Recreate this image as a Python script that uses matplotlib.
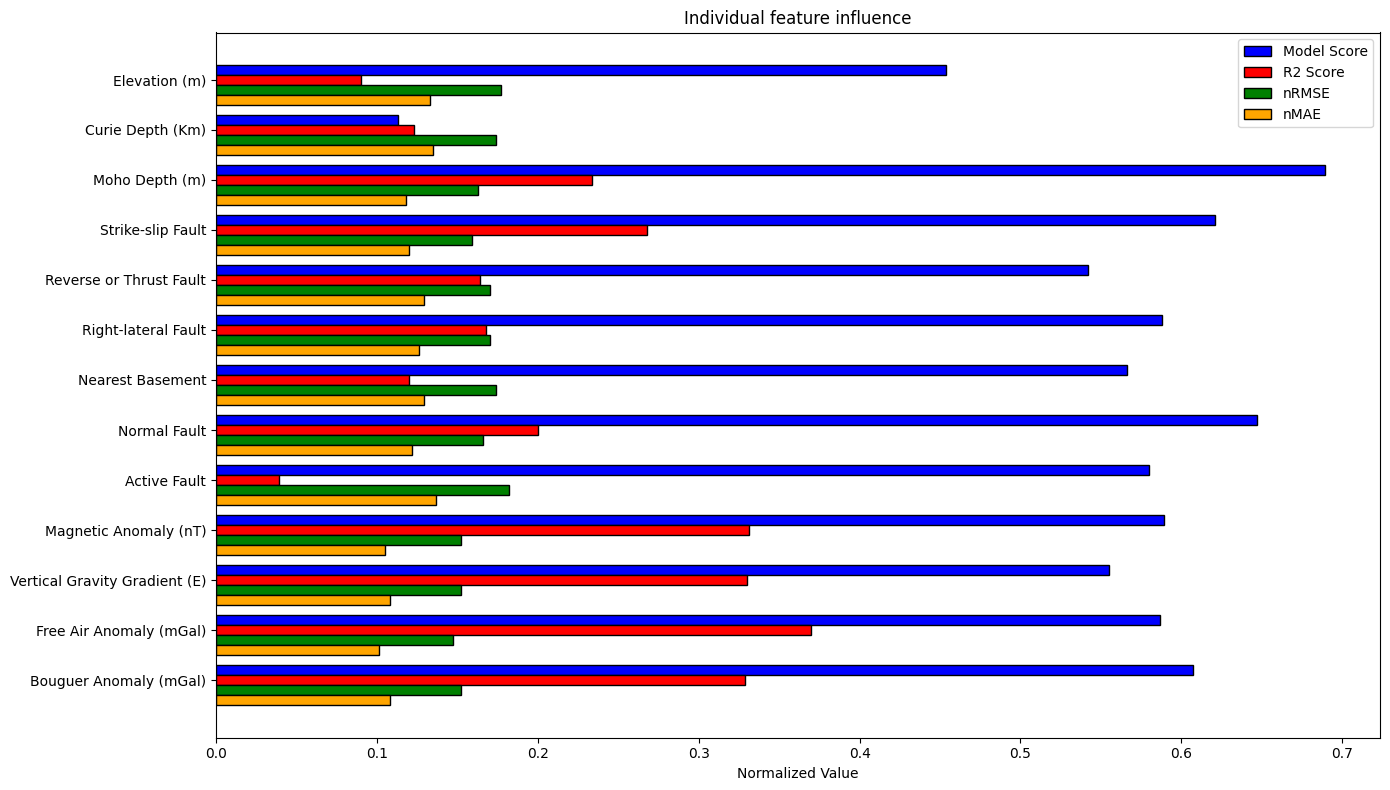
import numpy as np
import matplotlib
matplotlib.use("Agg")
import matplotlib.pyplot as plt

features = [
    "Elevation (m)", "Curie Depth (Km)", "Moho Depth (m)", "Strike-slip Fault",
    "Reverse or Thrust Fault", "Right-lateral Fault", "Nearest Basement",
    "Normal Fault", "Active Fault", "Magnetic Anomaly (nT)",
    "Vertical Gravity Gradient (E)", "Free Air Anomaly (mGal)", "Bouguer Anomaly (mGal)",
]
model_score = [0.454, 0.113, 0.689, 0.621, 0.542, 0.588, 0.566, 0.647, 0.580, 0.589, 0.555, 0.587, 0.607]
r2_score = [0.090, 0.123, 0.234, 0.268, 0.164, 0.168, 0.120, 0.200, 0.039, 0.331, 0.330, 0.370, 0.329]
nrmse = [0.177, 0.174, 0.163, 0.159, 0.170, 0.170, 0.174, 0.166, 0.182, 0.152, 0.152, 0.147, 0.152]
nmae = [0.133, 0.135, 0.118, 0.120, 0.129, 0.126, 0.129, 0.122, 0.137, 0.105, 0.108, 0.101, 0.108]

series = [
    ("Model Score", model_score, "blue"),
    ("R2 Score", r2_score, "red"),
    ("nRMSE", nrmse, "green"),
    ("nMAE", nmae, "orange"),
]

fig, ax = plt.subplots(figsize=(13.9, 7.9), dpi=100)
y = np.arange(len(features))
h = 0.2
for i, (name, vals, col) in enumerate(series):
    ax.barh(y + (i - 1) * h, vals, height=h, color=col, edgecolor="black", label=name)

ax.set_yticks(y)
ax.set_yticklabels(features)
ax.invert_yaxis()
ax.set_xlabel("Normalized Value")
ax.set_title("Individual feature influence")
ax.legend(loc="upper right")
fig.subplots_adjust(left=216/1390, right=1380/1390, top=1-32.5/790, bottom=1-737.5/790)
fig.savefig("out.png", dpi=100)
